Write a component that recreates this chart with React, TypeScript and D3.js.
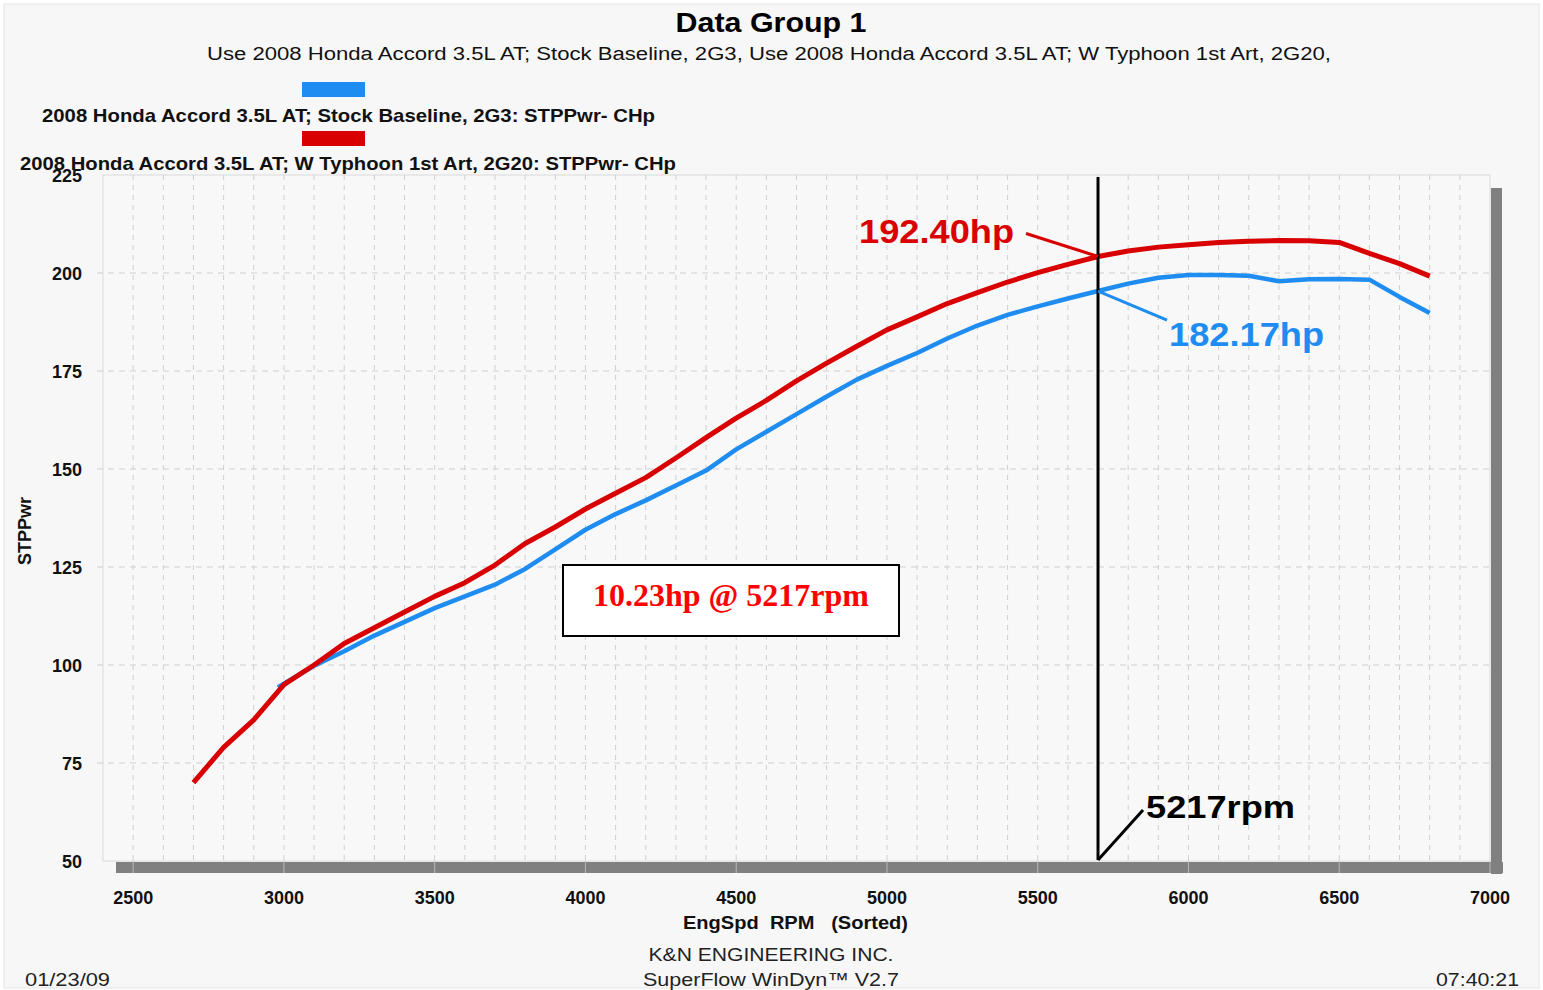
import React, { useRef, useEffect } from 'react';
import * as d3 from 'd3';

const titleText = 'Data Group 1';
const subtitleText =
    'Use 2008 Honda Accord 3.5L AT; Stock Baseline, 2G3, Use 2008 Honda Accord 3.5L AT; W Typhoon 1st Art, 2G20,';
const seriesNames = [
    '2008 Honda Accord 3.5L AT; Stock Baseline, 2G3: STPPwr- CHp',
    '2008 Honda Accord 3.5L AT; W Typhoon 1st Art, 2G20: STPPwr- CHp',
];
const seriesColors = ['#1e8cf0', '#d80000'];

const xTicks = [2500, 3000, 3500, 4000, 4500, 5000, 5500, 6000, 6500, 7000];
const yTicks = [50, 75, 100, 125, 150, 175, 200, 225];

// stock baseline
const stockRpm = [
    2980, 3000, 3100, 3200, 3300, 3400, 3500, 3600, 3700, 3800, 3900, 4000, 4100, 4200, 4300, 4400,
    4500, 4600, 4700, 4800, 4900, 5000, 5100, 5200, 5300, 5400, 5500, 5600, 5700, 5800, 5900, 6000,
    6100, 6200, 6300, 6400, 6500, 6600, 6700, 6800,
];
const stockHp = [
    94.3, 95.2, 99.8, 103.5, 107.5, 111, 114.5, 117.5, 120.5, 124.5, 129.5, 134.5, 138.5, 142, 145.8,
    149.6, 155, 159.5, 164, 168.5, 172.8, 176.3, 179.6, 183.3, 186.6, 189.3, 191.5, 193.5, 195.4,
    197.3, 198.8, 199.5, 199.5, 199.3, 197.9, 198.4, 198.5, 198.3, 193.9, 189.8,
];

// typhoon intake
const typhoonRpm = [
    2700, 2800, 2900, 3000, 3100, 3200, 3300, 3400, 3500, 3600, 3700, 3800, 3900, 4000, 4100, 4200,
    4300, 4400, 4500, 4600, 4700, 4800, 4900, 5000, 5100, 5200, 5300, 5400, 5500, 5600, 5700, 5800,
    5900, 6000, 6100, 6200, 6300, 6400, 6500, 6600, 6700, 6800,
];
const typhoonHp = [
    70, 79, 86, 95, 100, 105.5, 109.5, 113.5, 117.5, 121, 125.5, 131, 135.2, 139.8, 143.8, 147.8,
    152.8, 158, 163, 167.5, 172.5, 177, 181.3, 185.5, 188.8, 192.2, 195, 197.7, 200.1, 202.2, 204.2,
    205.6, 206.6, 207.2, 207.8, 208.1, 208.3, 208.2, 207.8, 205, 202.4, 199.2,
];
const seriesWidths = [4.5, 5];

const markerRpm = 5700;
const markerRpmLabel = '5217rpm';
const stockLabel = '182.17hp';
const typhoonLabel = '192.40hp';
const gainLabel = '10.23hp @ 5217rpm';

const footerLines = ['K&N ENGINEERING INC.', 'SuperFlow WinDyn\u2122 V2.7'];
const dateText = '01/23/09';
const timeText = '07:40:21';

export default function App() {
    const svgRef = useRef<SVGSVGElement | null>(null);

    useEffect(() => {
        const width = 1543;
        const height = 990;
        const plot = { left: 103, right: 1490, top: 175, bottom: 861 };
        const sans = '"Liberation Sans", Arial, sans-serif';
        const serif = '"Liberation Serif", "Times New Roman", serif';

        d3.select(svgRef.current).selectAll('*').remove();

        const svg = d3.select(svgRef.current).attr('width', width).attr('height', height);

        svg.append('rect').attr('width', width).attr('height', height).attr('fill', '#ffffff');
        svg.append('rect')
            .attr('x', 4)
            .attr('y', 4)
            .attr('width', width - 8)
            .attr('height', height - 6)
            .attr('fill', '#f7f7f7')
            .attr('stroke', '#e6e6e6');

        const x = d3.scaleLinear().domain([2400, 7000]).range([plot.left, plot.right]);
        const y = d3.scaleLinear().domain([50, 225]).range([plot.bottom, plot.top]);

        // shadow
        svg.append('rect')
            .attr('x', plot.left + 13)
            .attr('y', plot.bottom + 1)
            .attr('width', plot.right - plot.left)
            .attr('height', 11)
            .attr('fill', '#808080');
        svg.append('rect')
            .attr('x', plot.right + 1)
            .attr('y', plot.top + 13)
            .attr('width', 11)
            .attr('height', plot.bottom - plot.top)
            .attr('fill', '#808080');

        svg.append('rect')
            .attr('x', plot.left)
            .attr('y', plot.top)
            .attr('width', plot.right - plot.left)
            .attr('height', plot.bottom - plot.top)
            .attr('fill', '#f8f8f8')
            .attr('stroke', '#dadada');

        // grid
        d3.range(2500, 7000, 100).forEach((r) => {
            svg.append('line')
                .attr('x1', x(r))
                .attr('x2', x(r))
                .attr('y1', plot.top)
                .attr('y2', plot.bottom)
                .attr('stroke', '#cfcfcf')
                .attr('stroke-dasharray', '5,5');
        });
        yTicks.slice(1, -1).forEach((v) => {
            svg.append('line')
                .attr('x1', plot.left - 6)
                .attr('x2', plot.right)
                .attr('y1', y(v))
                .attr('y2', y(v))
                .attr('stroke', '#cfcfcf')
                .attr('stroke-dasharray', '6,5');
        });

        xTicks.forEach((t) => {
            svg.append('line')
                .attr('x1', x(t))
                .attr('x2', x(t))
                .attr('y1', plot.bottom)
                .attr('y2', plot.bottom + 12)
                .attr('stroke', '#b8b8b8');
            svg.append('text')
                .attr('x', x(t))
                .attr('y', 904)
                .attr('text-anchor', 'middle')
                .attr('font-family', sans)
                .attr('font-weight', 'bold')
                .attr('font-size', 18)
                .attr('fill', '#111')
                .text(t);
        });

        yTicks.forEach((t) => {
            svg.append('text')
                .attr('x', 82)
                .attr('y', y(t) + 7)
                .attr('text-anchor', 'end')
                .attr('font-family', sans)
                .attr('font-weight', 'bold')
                .attr('font-size', 18)
                .attr('fill', '#111')
                .text(t);
        });

        // axis titles
        svg.append('text')
            .attr('x', 683)
            .attr('y', 929)
            .attr('font-family', sans)
            .attr('font-weight', 'bold')
            .attr('font-size', 19)
            .attr('fill', '#111')
            .attr('textLength', 225)
            .attr('lengthAdjust', 'spacingAndGlyphs')
            .style('white-space', 'pre')
            .text('EngSpd  RPM   (Sorted)');
        svg.append('text')
            .attr('transform', 'translate(31,531) rotate(-90)')
            .attr('text-anchor', 'middle')
            .attr('font-family', sans)
            .attr('font-weight', 'bold')
            .attr('font-size', 18)
            .attr('fill', '#111')
            .text('STPPwr');

        // curves
        const line = d3
            .line<[number, number]>()
            .x((d) => x(d[0]))
            .y((d) => y(d[1]));
        const stock: [number, number][] = stockRpm.map((r, i) => [r, stockHp[i]]);
        const typhoon: [number, number][] = typhoonRpm.map((r, i) => [r, typhoonHp[i]]);
        [stock, typhoon].forEach((pts, i) => {
            svg.append('path')
                .attr('d', line(pts))
                .attr('fill', 'none')
                .attr('stroke', seriesColors[i])
                .attr('stroke-width', seriesWidths[i])
                .attr('stroke-linejoin', 'round');
        });

        // marker
        const mx = x(markerRpm);
        const stockY = y(stockHp[stockRpm.indexOf(markerRpm)]);
        const typhoonY = y(typhoonHp[typhoonRpm.indexOf(markerRpm)]);
        svg.append('line')
            .attr('x1', mx)
            .attr('x2', mx)
            .attr('y1', plot.top + 2)
            .attr('y2', plot.bottom - 1)
            .attr('stroke', '#000')
            .attr('stroke-width', 3);

        svg.append('line')
            .attr('x1', mx - 72)
            .attr('y1', typhoonY - 23)
            .attr('x2', mx)
            .attr('y2', typhoonY)
            .attr('stroke', seriesColors[1])
            .attr('stroke-width', 3);
        svg.append('text')
            .attr('x', mx - 239)
            .attr('y', typhoonY - 14)
            .attr('font-family', sans)
            .attr('font-weight', 'bold')
            .attr('font-size', 33)
            .attr('fill', seriesColors[1])
            .attr('textLength', 155)
            .attr('lengthAdjust', 'spacingAndGlyphs')
            .text(typhoonLabel);

        svg.append('line')
            .attr('x1', mx)
            .attr('y1', stockY)
            .attr('x2', mx + 69)
            .attr('y2', stockY + 29)
            .attr('stroke', seriesColors[0])
            .attr('stroke-width', 3);
        svg.append('text')
            .attr('x', mx + 71)
            .attr('y', stockY + 55)
            .attr('font-family', sans)
            .attr('font-weight', 'bold')
            .attr('font-size', 33)
            .attr('fill', seriesColors[0])
            .attr('textLength', 155)
            .attr('lengthAdjust', 'spacingAndGlyphs')
            .text(stockLabel);

        svg.append('line')
            .attr('x1', mx)
            .attr('y1', plot.bottom - 1)
            .attr('x2', mx + 45)
            .attr('y2', plot.bottom - 51)
            .attr('stroke', '#000')
            .attr('stroke-width', 3);
        svg.append('text')
            .attr('x', mx + 48)
            .attr('y', plot.bottom - 43)
            .attr('font-family', sans)
            .attr('font-weight', 'bold')
            .attr('font-size', 32)
            .attr('fill', '#000')
            .attr('textLength', 149)
            .attr('lengthAdjust', 'spacingAndGlyphs')
            .text(markerRpmLabel);

        // gain box
        svg.append('rect')
            .attr('x', 563)
            .attr('y', 565)
            .attr('width', 336)
            .attr('height', 71)
            .attr('fill', '#ffffff')
            .attr('stroke', '#000')
            .attr('stroke-width', 2);
        svg.append('text')
            .attr('x', 731)
            .attr('y', 606)
            .attr('text-anchor', 'middle')
            .attr('font-family', serif)
            .attr('font-weight', 'bold')
            .attr('font-size', 32)
            .attr('fill', '#ff0000')
            .text(gainLabel);

        // header
        svg.append('text')
            .attr('x', 771)
            .attr('y', 32)
            .attr('text-anchor', 'middle')
            .attr('font-family', sans)
            .attr('font-weight', 'bold')
            .attr('font-size', 28)
            .attr('fill', '#000')
            .attr('textLength', 191)
            .attr('lengthAdjust', 'spacingAndGlyphs')
            .text(titleText);
        svg.append('text')
            .attr('x', 769)
            .attr('y', 60)
            .attr('text-anchor', 'middle')
            .attr('font-family', sans)
            .attr('font-size', 18)
            .attr('fill', '#111')
            .attr('textLength', 1124)
            .attr('lengthAdjust', 'spacingAndGlyphs')
            .text(subtitleText);

        // legend
        const legendRows = [
            { swatchY: 82, textX: 42, textY: 122, len: 613 },
            { swatchY: 131, textX: 20, textY: 170, len: 656 },
        ];
        legendRows.forEach((row, i) => {
            svg.append('rect')
                .attr('x', 302)
                .attr('y', row.swatchY)
                .attr('width', 63)
                .attr('height', 15)
                .attr('fill', seriesColors[i]);
            svg.append('text')
                .attr('x', row.textX)
                .attr('y', row.textY)
                .attr('font-family', sans)
                .attr('font-weight', 'bold')
                .attr('font-size', 19)
                .attr('fill', '#111')
                .attr('textLength', row.len)
                .attr('lengthAdjust', 'spacingAndGlyphs')
                .text(seriesNames[i]);
        });

        // footer
        footerLines.forEach((t, i) => {
            svg.append('text')
                .attr('x', 771)
                .attr('y', 961 + i * 25)
                .attr('text-anchor', 'middle')
                .attr('font-family', sans)
                .attr('font-size', 19)
                .attr('fill', '#222')
                .attr('textLength', i === 0 ? 245 : 256)
                .attr('lengthAdjust', 'spacingAndGlyphs')
                .text(t);
        });
        svg.append('text')
            .attr('x', 25)
            .attr('y', 986)
            .attr('font-family', sans)
            .attr('font-size', 19)
            .attr('fill', '#222')
            .attr('textLength', 85)
            .attr('lengthAdjust', 'spacingAndGlyphs')
            .text(dateText);
        svg.append('text')
            .attr('x', 1519)
            .attr('y', 986)
            .attr('text-anchor', 'end')
            .attr('font-family', sans)
            .attr('font-size', 19)
            .attr('fill', '#222')
            .attr('textLength', 83)
            .attr('lengthAdjust', 'spacingAndGlyphs')
            .text(timeText);
    }, []);

    return <svg ref={svgRef} style={{ position: 'absolute', left: 0, top: 0, display: 'block' }}></svg>;
}
